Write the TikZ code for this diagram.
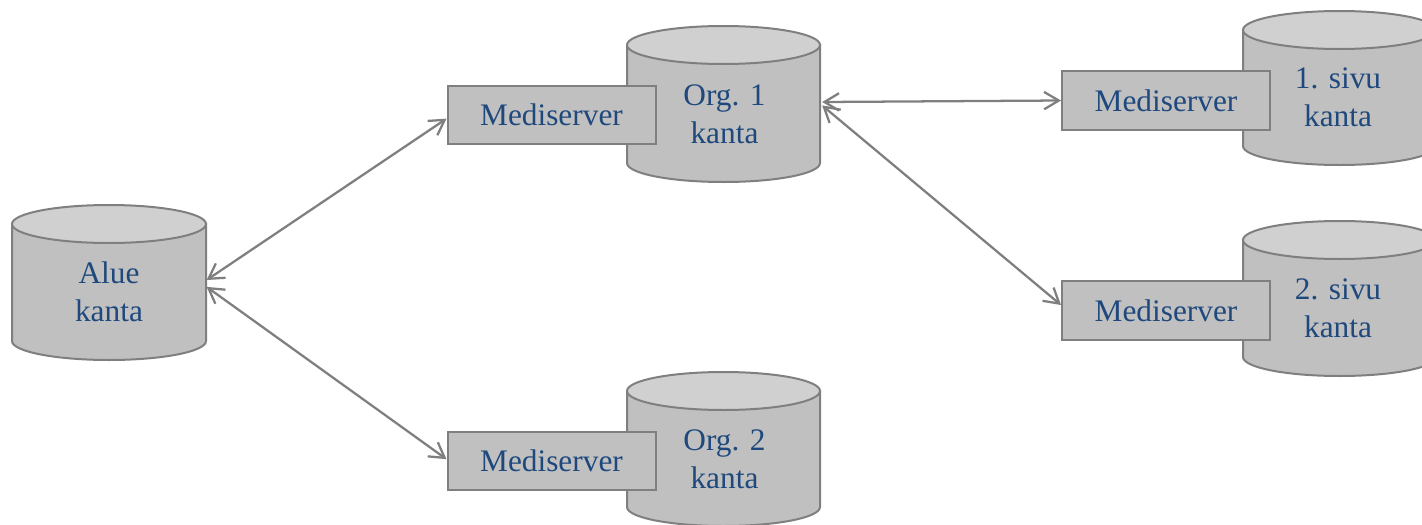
\documentclass[tikz,border=0pt]{standalone}
\usepackage{fontspec}
\setmainfont{Liberation Serif}
\usetikzlibrary{arrows.meta}
\definecolor{kantaline}{RGB}{127,127,127}
\definecolor{kantabody}{RGB}{192,192,192}
\definecolor{kantatop}{RGB}{208,208,208}
\definecolor{kantatext}{RGB}{31,73,125}
\tikzset{every picture/.style={line width=1.5pt}}
\tikzset{
  kantatxt/.style={text=kantatext, align=center, minimum width=145pt, font=\fontsize{23.5}{28.5}\selectfont},
  mediserver/.style={draw=kantaline, fill=kantabody, text=kantatext, minimum width=156pt, minimum height=44pt, inner sep=0pt, font=\fontsize{23.5}{28.5}\selectfont},
  link/.style={draw=kantaline, line width=1.7pt, {Straight Barb[length=11pt,width=13pt]}-{Straight Barb[length=11pt,width=13pt]}}
}

\begin{document}
\begin{tikzpicture}[x=0.75pt,y=0.75pt,yscale=-1,xscale=1]
\useasboundingbox (0,0) rectangle (1422,525);

%Shape: Can [Alue]
\draw [draw=kantaline, fill=kantabody] (12,224) -- (12,341) arc [start angle=180, end angle=0, x radius=97, y radius=19] -- (206,224) -- cycle ;
\draw [draw=kantaline, fill=kantatop] (109,224) ellipse [x radius=97, y radius=19] ;

%Shape: Can [Org. 1]
\draw [draw=kantaline, fill=kantabody] (627,45) -- (627,163) arc [start angle=180, end angle=0, x radius=96.5, y radius=19] -- (820,45) -- cycle ;
\draw [draw=kantaline, fill=kantatop] (723.5,45) ellipse [x radius=96.5, y radius=19] ;

%Shape: Can [Org. 2]
\draw [draw=kantaline, fill=kantabody] (627,391) -- (627,507) arc [start angle=180, end angle=0, x radius=96.5, y radius=19] -- (820,391) -- cycle ;
\draw [draw=kantaline, fill=kantatop] (723.5,391) ellipse [x radius=96.5, y radius=19] ;

%Shape: Can [1. sivu]
\draw [draw=kantaline, fill=kantabody] (1243,30) -- (1243,146) arc [start angle=180, end angle=0, x radius=96.5, y radius=19] -- (1436,30) -- cycle ;
\draw [draw=kantaline, fill=kantatop] (1339.5,30) ellipse [x radius=96.5, y radius=19] ;

%Shape: Can [2. sivu]
\draw [draw=kantaline, fill=kantabody] (1243,240) -- (1243,357) arc [start angle=180, end angle=0, x radius=96.5, y radius=19] -- (1436,240) -- cycle ;
\draw [draw=kantaline, fill=kantatop] (1339.5,240) ellipse [x radius=96.5, y radius=19] ;

% Text Node
\node (alue) [kantatxt] at (109,292) {Alue\\kanta};
% Text Node
\node (org1) [kantatxt] at (724.5,114) {Org. 1\\kanta};
% Text Node
\node (org2) [kantatxt] at (724.5,459) {Org. 2\\kanta};
% Text Node
\node (sivu1) [kantatxt] at (1338,97.5) {1. sivu\\kanta};
% Text Node
\node (sivu2) [kantatxt] at (1338,308) {2. sivu\\kanta};

%Shape: Rectangle
\node (medi1) [mediserver] at (551.5,115) {Mediserver};
%Shape: Rectangle
\node (medi2) [mediserver] at (551.5,461) {Mediserver};
%Shape: Rectangle
\node (medi3) [mediserver] at (1166,100.5) {Mediserver};
%Shape: Rectangle
\node (medi4) [mediserver] at (1166,310.5) {Mediserver};

%Straight Lines
\draw [link] (alue.7) -- (medi1.182) ;
\draw [link] (alue.3) -- (medi2.179) ;
\draw [link] (org1.7) -- (medi3.west) ;
\draw [link] (org1.5) -- (medi4.177) ;
\end{tikzpicture}
\end{document}
